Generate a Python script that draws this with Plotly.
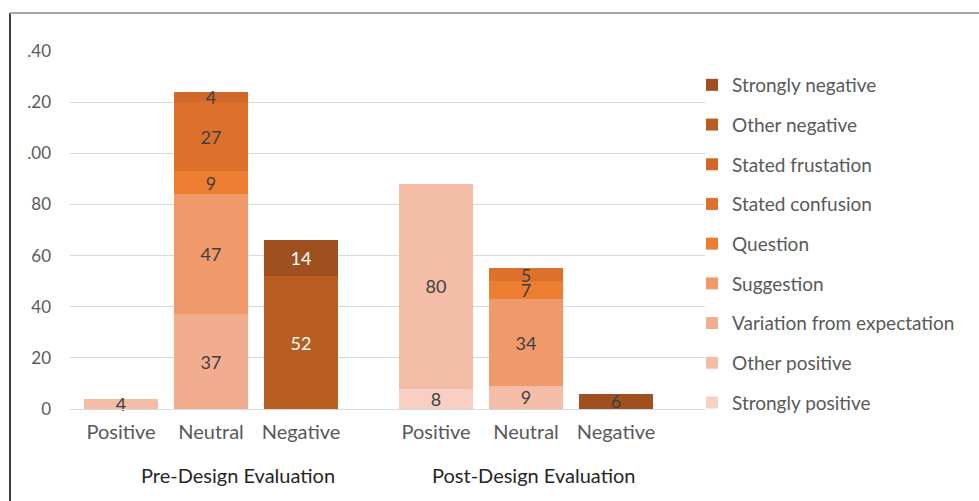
import plotly.graph_objects as go

# ---- data ----
categories = ["Positive", "Neutral", "Negative", "Positive", "Neutral", "Negative"]
groups = ["Pre-Design Evaluation", "Post-Design Evaluation"]
group_of = [0, 0, 0, 1, 1, 1]

series_names = ["Strongly positive", "Other positive", "Variation from expectation",
                "Suggestion", "Question", "Stated confusion", "Stated frustation",
                "Other negative", "Strongly negative"]
strongly_positive = [None, None, None, 8, None, None]
other_positive = [4, None, None, 80, 9, None]
variation = [None, 37, None, None, None, None]
suggestion = [None, 47, None, None, 34, None]
question = [None, 9, None, None, 7, None]
stated_confusion = [None, 27, None, None, 5, None]
stated_frustation = [None, 4, None, None, None, None]
other_negative = [None, None, 52, None, None, None]
strongly_negative = [None, None, 14, None, None, 6]
series_values = [strongly_positive, other_positive, variation, suggestion, question,
                 stated_confusion, stated_frustation, other_negative, strongly_negative]

colors = ["#F8D0C3", "#F4BDA8", "#F2AC8E", "#F09A6C", "#ED7D31",
          "#DD712C", "#CF6828", "#B85E22", "#A0501E"]
dark = "#404040"
label_colors = [
    [dark] * 6, [dark] * 6, [dark] * 6, [dark] * 6, [dark] * 6, [dark] * 6, [dark] * 6,
    ["white"] * 6,
    [dark, dark, "white", dark, dark, dark],
]

y_ticks = [0, 20, 40, 60, 80, 100, 120, 140]
y_ticktext = ["0", "20", "40", "60", "80", ".00", ".20", ".40"]

# x positions: categories within group spaced by 1, groups separated by a gap
GROUP_GAP = 0.5
xpos = [i + g * GROUP_GAP for i, g in enumerate(group_of)]

FONT = "Lato"
FS = 20
LEG_FS = 19
LABEL_FS = 18

fig = go.Figure()
n = len(series_names)
for i, (name, vals, col, tcol) in enumerate(zip(series_names, series_values, colors, label_colors)):
    fig.add_trace(go.Bar(
        x=xpos, y=vals, name=name, legendgroup=name, legendrank=n - i,
        marker=dict(color=col, line=dict(width=0)),
        width=0.82,
        text=[str(v) if v is not None else "" for v in vals],
        textposition="inside", insidetextanchor="middle", textangle=0,
        textfont=dict(color=tcol, size=LABEL_FS, family=FONT),
        cliponaxis=False, hoverinfo="skip",
    ))

W, H = 979, 501
L, R, T, B = 70, 274, 51, 92
pw, ph = W - L - R, H - T - B


def px_x(p):
    return (p - L) / pw


def px_y(p):
    return (H - B - p) / ph


annotations = []
for gi, gname in enumerate(groups):
    gx = [x for x, g in zip(xpos, group_of) if g == gi]
    annotations.append(dict(
        x=sum(gx) / len(gx) + (0.3 if gi == 0 else 0.08), y=px_y(475), xref="x", yref="paper",
        yanchor="middle", text=gname, showarrow=False,
        font=dict(size=FS, color="#262626", family=FONT),
    ))

fig.update_layout(
    width=W, height=H,
    margin=dict(l=L, r=R, t=T, b=B),
    paper_bgcolor="white", plot_bgcolor="white",
    barmode="stack", bargap=0.18,
    font=dict(family=FONT, color="#595959"),
    uniformtext=dict(minsize=LABEL_FS, mode="show"),
    xaxis=dict(
        range=[-0.567, 6.489], tickvals=xpos, ticktext=categories,
        tickfont=dict(size=FS, color="#595959"), showgrid=False,
        showline=True, linecolor="#D9D9D9", linewidth=1, ticks="", zeroline=False,
        ticklabelstandoff=5,
    ),
    yaxis=dict(
        range=[0, 140], tickvals=y_ticks, ticktext=y_ticktext,
        tickfont=dict(size=17, color="#595959"), showgrid=True,
        gridcolor="#D9D9D9", gridwidth=1, zeroline=False, ticklabelstandoff=18,
    ),
    legend=dict(
        x=px_x(692), xanchor="left", y=px_y(66), yanchor="top",
        font=dict(size=LEG_FS, color="#595959", family=FONT),
        traceorder="grouped", tracegroupgap=12, itemwidth=30,
        bgcolor="rgba(0,0,0,0)",
    ),
    annotations=annotations,
    shapes=[
        dict(type="line", xref="paper", yref="paper", x0=px_x(10), x1=px_x(10),
             y0=px_y(13), y1=px_y(505), line=dict(color="#404040", width=2)),
        dict(type="line", xref="paper", yref="paper", x0=px_x(10), x1=px_x(985),
             y0=px_y(13), y1=px_y(13), line=dict(color="#A6A6A6", width=2)),
    ],
)

fig.write_html("out.html")
